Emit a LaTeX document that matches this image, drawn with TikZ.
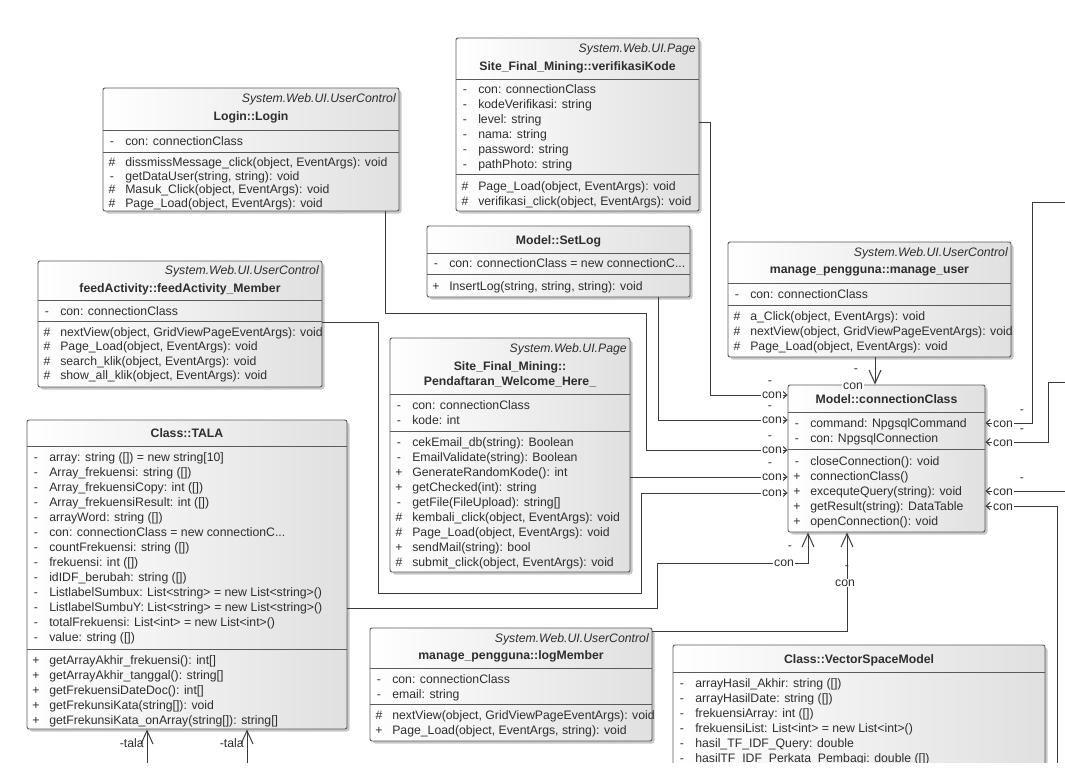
\documentclass[tikz,border=0pt]{standalone}
\usepackage{fontspec}
\setmainfont{Liberation Sans}
\usetikzlibrary{arrows.meta,fit}

\definecolor{boxline}{HTML}{5A5A5A}
\definecolor{boxshade}{HTML}{E0E0E0}
\definecolor{txt}{HTML}{2E2E2E}
\definecolor{wirec}{HTML}{3A3A3A}

\tikzset{
  cls/.style={draw=boxline, line width=0.7pt, rounded corners=1.5pt, left color=white, right color=boxshade},
  shadowbox/.style={fill=black, opacity=0.22, rounded corners=2pt},
  sepline/.style={draw=boxline, line width=0.7pt},
  row/.style={anchor=base west, inner sep=0pt, text=txt},
  vis/.style={anchor=base, inner sep=0pt, text=txt},
  stereo/.style={anchor=base east, inner sep=0pt, text=txt, font=\fontsize{9.2}{11}\selectfont\itshape},
  title/.style={anchor=base, inner sep=0pt, text=txt, font=\fontsize{9.2}{11}\selectfont\bfseries},
  wire/.style={draw=wirec, line width=0.75pt},
  assoc/.style={wire, -{Straight Barb[length=3pt,width=5.5pt]}},
  bigassoc/.style={wire, -{Straight Barb[length=10pt,width=9pt]}},
  role/.style={inner sep=0.6pt, text=txt, fill=white},
  rolevis/.style={inner sep=0pt, text=txt},
}

% class rectangle with drop shadow, as a named node
\newcommand\classbox[5]{%
  \fill[shadowbox] (#2+2.5,#3+2.5) rectangle (#4+2.5,#5+2.5);
  \node[cls, fit={(#2,#3) (#4,#5)}, inner sep=0pt] (#1) {};}
% compartment separator
\newcommand\hsep[3]{\draw[sepline] (#1,#3) -- (#2,#3);}
% member rows: left x, first row centre y, spacing, list of visibility/text
\newcommand\members[4]{%
  \foreach \v/\t [count=\i from 0] in {#4}{%
    \node[vis] at (#1+9, #2+\i*#3+4.3) {\v};
    \node[row] at (#1+22, #2+\i*#3+4.3) {\t};}}

\begin{document}
\begin{tikzpicture}[x=0.75pt, y=-0.75pt, font=\fontsize{9.2}{11}\selectfont]
\useasboundingbox (0,0) rectangle (1065,776);
\fill[white] (0,0) rectangle (1065,776);

\begin{scope}
\clip (0,0) rectangle (1065,762);

% ---------- Login::Login
\classbox{login}{103}{88}{399}{211}
\node[stereo] at (396,102) {System.Web.UI.UserControl};
\node[title] at (251,120) {Login::Login};
\hsep{103}{399}{130}\hsep{103}{399}{152}
\members{103}{141}{15}{-/{con: connectionClass}}
\members{103}{162.5}{13.5}{\#/{dissmissMessage\_click(object, EventArgs): void}, -/{getDataUser(string, string): void}, \#/{Masuk\_Click(object, EventArgs): void}, \#/{Page\_Load(object, EventArgs): void}}

% ---------- Site_Final_Mining::verifikasiKode
\classbox{verif}{456}{38}{699}{211}
\node[stereo] at (696,52) {System.Web.UI.Page};
\node[title] at (577.5,70) {Site\_Final\_Mining::verifikasiKode};
\hsep{456}{699}{79}\hsep{456}{699}{174}
\members{456}{89}{15}{-/{con: connectionClass}, -/{kodeVerifikasi: string}, -/{level: string}, -/{nama: string}, -/{password: string}, -/{pathPhoto: string}}
\members{456}{186}{15}{\#/{Page\_Load(object, EventArgs): void}, \#/{verifikasi\_click(object, EventArgs): void}}

% ---------- Model::SetLog
\classbox{setlog}{427}{226}{690}{297}
\node[title] at (558.5,244) {Model::SetLog};
\hsep{427}{690}{253}\hsep{427}{690}{274}
\members{427}{263}{15}{-/{con: connectionClass = new connectionC...}}
\members{427}{286}{15}{+/{InsertLog(string, string, string): void}}

% ---------- feedActivity::feedActivity_Member
\classbox{feed}{38}{261}{322}{387}
\node[stereo] at (319,274) {System.Web.UI.UserControl};
\node[title] at (180,292) {feedActivity::feedActivity\_Member};
\hsep{38}{322}{300}\hsep{38}{322}{321}
\members{38}{311}{15}{-/{con: connectionClass}}
\members{38}{332}{14.5}{\#/{nextView(object, GridViewPageEventArgs): void}, \#/{Page\_Load(object, EventArgs): void}, \#/{search\_klik(object, EventArgs): void}, \#/{show\_all\_klik(object, EventArgs): void}}

% ---------- manage_pengguna::manage_user
\classbox{muser}{728}{242}{1011}{357}
\node[stereo] at (1008,256) {System.Web.UI.UserControl};
\node[title] at (869.5,273) {manage\_pengguna::manage\_user};
\hsep{728}{1011}{283}\hsep{728}{1011}{305}
\members{728}{294}{15}{-/{con: connectionClass}}
\members{728}{316}{15}{\#/{a\_Click(object, EventArgs): void}, \#/{nextView(object, GridViewPageEventArgs): void}, \#/{Page\_Load(object, EventArgs): void}}

% ---------- Model::connectionClass
\classbox{cc}{788}{385}{985}{532}
\node[title] at (886.5,403) {Model::connectionClass};
\hsep{788}{985}{412}\hsep{788}{985}{449}
\members{788}{423}{15}{-/{command: NpgsqlCommand}, -/{con: NpgsqlConnection}}
\members{788}{461}{15}{-/{closeConnection(): void}, +/{connectionClass()}, +/{excequteQuery(string): void}, +/{getResult(string): DataTable}, +/{openConnection(): void}}

% ---------- Site_Final_Mining::Pendaftaran_Welcome_Here_
\classbox{pend}{390}{338}{630}{572}
\node[stereo] at (627,352) {System.Web.UI.Page};
\node[title] at (510,370) {Site\_Final\_Mining::};
\node[title] at (510,385) {Pendaftaran\_Welcome\_Here\_};
\hsep{390}{630}{394}\hsep{390}{630}{431}
\members{390}{405}{15}{-/{con: connectionClass}, -/{kode: int}}
\members{390}{442}{15}{-/{cekEmail\_db(string): Boolean}, -/{EmailValidate(string): Boolean}, +/{GenerateRandomKode(): int}, +/{getChecked(int): string}, -/{getFile(FileUpload): string[]}, \#/{kembali\_click(object, EventArgs): void}, \#/{Page\_Load(object, EventArgs): void}, +/{sendMail(string): bool}, \#/{submit\_click(object, EventArgs): void}}

% ---------- Class::TALA
\classbox{tala}{27}{420}{347}{729}
\node[title] at (187,437) {Class::TALA};
\hsep{27}{347}{446}\hsep{27}{347}{649}
\members{27}{457}{15}{-/{array: string ([]) = new string[10]}, -/{Array\_frekuensi: string ([])}, -/{Array\_frekuensiCopy: int ([])}, -/{Array\_frekuensiResult: int ([])}, -/{arrayWord: string ([])}, -/{con: connectionClass = new connectionC...}, -/{countFrekuensi: string ([])}, -/{frekuensi: int ([])}, -/{idIDF\_berubah: string ([])}, -/{ListlabelSumbux: List<string> = new List<string>()}, -/{ListlabelSumbuY: List<string> = new List<string>()}, -/{totalFrekuensi: List<int> = new List<int>()}, -/{value: string ([])}}
\members{27}{660}{15}{+/{getArrayAkhir\_frekuensi(): int[]}, +/{getArrayAkhir\_tanggal(): string[]}, +/{getFrekuensiDateDoc(): int[]}, +/{getFrekunsiKata(string[]): void}, +/{getFrekunsiKata\_onArray(string[]): string[]}}

% ---------- manage_pengguna::logMember
\classbox{logm}{370}{628}{652}{741}
\node[stereo] at (649,642) {System.Web.UI.UserControl};
\node[title] at (511,659) {manage\_pengguna::logMember};
\hsep{370}{652}{668}\hsep{370}{652}{704}
\members{370}{679}{15}{-/{con: connectionClass}, -/{email: string}}
\members{370}{715}{15}{\#/{nextView(object, GridViewPageEventArgs): void}, +/{Page\_Load(object, EventArgs, string): void}}

% ---------- Class::VectorSpaceModel
\classbox{vsm}{673}{645}{1045}{800}
\node[title] at (859,663) {Class::VectorSpaceModel};
\hsep{673}{1045}{672}
\members{673}{683}{15}{-/{arrayHasil\_Akhir: string ([])}, -/{arrayHasilDate: string ([])}, -/{frekuensiArray: int ([])}, -/{frekuensiList: List<int> = new List<int>()}, -/{hasil\_TF\_IDF\_Query: double}, -/{hasilTF\_IDF\_Perkata\_Pembagi: double ([])}}

% ---------- associations into connectionClass (left side)
\coordinate (vk1) at (710,122);
\coordinate (vk2) at (710,395);
\draw[assoc] (verif.east |- vk1) -- (vk1) -- (vk2) -- (cc.west |- vk2);

\coordinate (sl1) at (658,420);
\draw[assoc] (setlog.south -| sl1) -- (sl1) -- (cc.west |- sl1);

\coordinate (lg1) at (385,313);
\coordinate (lg2) at (646,313);
\coordinate (lg3) at (646,450);
\draw[assoc] (login.south -| lg1) -- (lg1) -- (lg2) -- (lg3) -- (cc.west |- lg3);

\coordinate (pd1) at (700,477);
\draw[assoc] (pend.east |- pd1) -- (cc.west |- pd1);

\coordinate (fa1) at (378,322);
\coordinate (fa2) at (378,593);
\coordinate (fa3) at (641,593);
\coordinate (fa4) at (641,493);
\draw[assoc] (feed.east |- fa1) -- (fa1) -- (fa2) -- (fa3) -- (fa4) -- (cc.west |- fa4);

% top and bottom
\coordinate (mu1) at (875,370);
\draw[bigassoc] (muser.south -| mu1) -- (cc.north -| mu1);

\coordinate (ta1) at (657,608);
\coordinate (ta2) at (657,563);
\coordinate (ta3) at (808,563);
\draw[bigassoc] (tala.east |- ta1) -- (ta1) -- (ta2) -- (ta3) -- (cc.south -| ta3);

\coordinate (lm1) at (847,631);
\draw[bigassoc] (logm.east |- lm1) -- (lm1) -- (cc.south -| lm1);

% right side, from classes further right
\coordinate (r1a) at (1066,202);
\coordinate (r1b) at (1032,202);
\coordinate (r1c) at (1032,423);
\draw[assoc] (r1a) -- (r1b) -- (r1c) -- (cc.east |- r1c);
\coordinate (r2a) at (1066,382);
\coordinate (r2b) at (1048,382);
\coordinate (r2c) at (1048,442);
\draw[assoc] (r2a) -- (r2b) -- (r2c) -- (cc.east |- r2c);
\coordinate (r3a) at (1066,491);
\draw[assoc] (r3a) -- (cc.east |- r3a);
\coordinate (r4a) at (1057,770);
\coordinate (r4b) at (1057,506);
\draw[assoc] (r4a) -- (r4b) -- (cc.east |- r4b);

% associations into TALA from below
\coordinate (tb1) at (147,770);
\coordinate (tb2) at (247,770);
\draw[bigassoc] (tb1) -- (tala.south -| tb1);
\draw[bigassoc] (tb2) -- (tala.south -| tb2);

% ---------- role labels
\foreach \y in {395,420,450,477}{
  \node[rolevis] at (770,\y-12.5) {-};
  \node[role] at (772,\y+0.5) {con};}
\node[role] at (772,493.5) {con};
\node[rolevis] at (856,371) {-};
\node[role] at (853,386) {con};
\node[rolevis] at (790,548) {-};
\node[role] at (784,563) {con};
\node[rolevis] at (847,568) {-};
\node[role] at (845,583) {con};
\foreach \y in {423,442,491}{
  \node[rolevis] at (1022,\y-11) {-};
  \node[role] at (1003,\y+1) {con};}
\node[role] at (1003,507) {con};
\node[rolevis, anchor=east] at (144,743) {-tala};
\node[rolevis, anchor=east] at (244,743) {-tala};
\end{scope}
\end{tikzpicture}
\end{document}
